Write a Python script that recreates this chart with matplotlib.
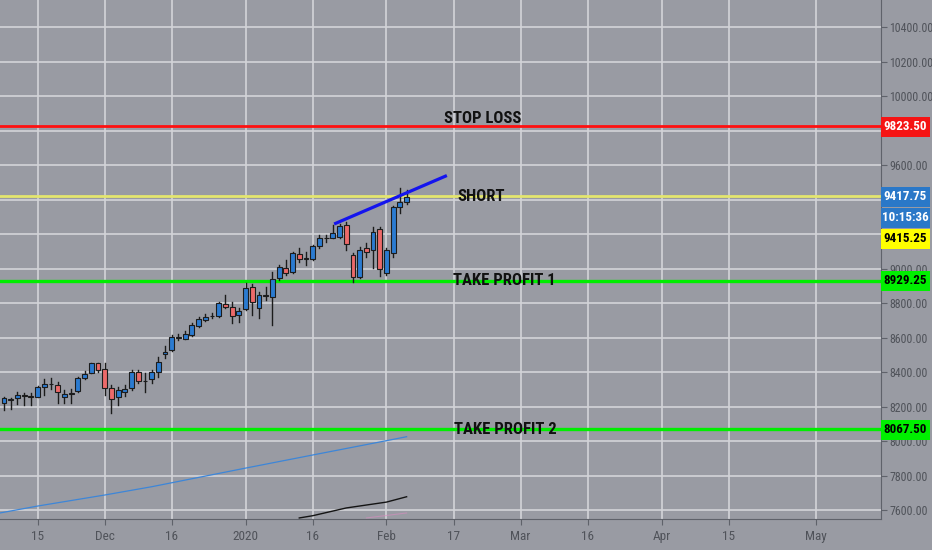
import matplotlib
matplotlib.use('Agg')
import matplotlib.pyplot as plt
import matplotlib.transforms as mtransforms
from matplotlib.patches import Rectangle

# daily NQ candles, oldest first (mid Nov 2019 .. Feb 6 2020)
opens = [8220, 8240, 8248, 8262, 8258, 8257, 8315, 8328, 8325, 8257,
         8275, 8292, 8365, 8395, 8450, 8417, 8307, 8254, 8284, 8307,
         8400, 8346, 8359, 8400, 8504, 8527, 8600, 8591, 8615, 8667,
         8701, 8722, 8725, 8794, 8777, 8730, 8765, 8893, 8771, 8843,
         8835, 8945, 9004, 8980, 9084, 9055, 9055, 9130, 9174, 9177,
         9183, 9252, 9078, 8951, 9119, 9107, 9229, 8974, 9090, 9357,
         9386]
highs = [8255, 8252, 8286, 8277, 8280, 8319, 8358, 8363, 8340, 8296,
         8300, 8373, 8408, 8455, 8455, 8452, 8325, 8315, 8325, 8412,
         8412, 8394, 8412, 8487, 8551, 8615, 8620, 8640, 8684, 8719,
         8736, 8742, 8806, 8846, 8806, 8771, 8916, 8910, 8864, 8893,
         8980, 9020, 9050, 9096, 9119, 9096, 9136, 9194, 9194, 9252,
         9258, 9270, 9090, 9125, 9148, 9241, 9241, 9119, 9362, 9467,
         9455]
lows = [8180, 8184, 8215, 8209, 8209, 8253, 8267, 8302, 8218, 8218,
        8222, 8286, 8360, 8392, 8400, 8267, 8162, 8209, 8261, 8296,
        8336, 8284, 8336, 8371, 8481, 8522, 8585, 8590, 8608, 8661,
        8697, 8713, 8719, 8771, 8684, 8690, 8759, 8730, 8713, 8817,
        8673, 8933, 8962, 8974, 9038, 9020, 9049, 9119, 9154, 9177,
        9177, 9107, 8922, 8945, 9067, 9003, 8956, 8962, 9067, 9322,
        9374]
closes = [8249, 8243, 8267, 8265, 8256, 8315, 8330, 8332, 8286, 8271,
          8278, 8364, 8388, 8451, 8410, 8307, 8243, 8296, 8301, 8400,
          8348, 8350, 8400, 8458, 8516, 8603, 8603, 8620, 8673, 8707,
          8719, 8725, 8800, 8777, 8725, 8754, 8887, 8806, 8846, 8847,
          8939, 9009, 8974, 9090, 9055, 9060, 9130, 9177, 9177, 9206,
          9246, 9142, 8951, 9107, 9096, 9212, 8997, 9107, 9357, 9386,
          9415]

# x axis (bar index -> label)
tick_pos = [5, 15, 25, 36, 46, 57, 67, 77, 87, 98, 108, 121]
tick_labels = ['15', 'Dec', '16', '2020', '16', 'Feb', '17', 'Mar', '16', 'Apr', '15', 'May']
price_ticks = [7600, 7800, 8000, 8200, 8400, 8600, 8800, 9000, 9200,
               9400, 9600, 9800, 10000, 10200, 10400]
# scale labels covered by the price boxes
covered_ticks = [9200, 9400, 9800]

# moving averages
ma_blue_idx = [-0.6, 5, 15, 22, 36, 46, 57, 60]
ma_blue_val = [7583, 7623, 7687, 7735, 7843, 7919, 8002, 8025]
ma_black_idx = [44, 46, 51, 57, 60]
ma_black_val = [7554, 7567, 7612, 7646, 7677]
ma_pink_idx = [54, 60]
ma_pink_val = [7554, 7583]

# drawn levels
stop_loss = 9823.50
short_level = 9417.75
take_profit_1 = 8929.25
take_profit_2 = 8067.50
bid_price = 9415.25
countdown = '10:15:36'

# trend line drawn on the highs
trend_idx = [49.2, 66.0]
trend_val = [9258, 9539]

BG = '#999ba3'
GRID = '#d3d4d8'
AXIS = '#5f626a'
TXT = '#50535a'
UP = '#2b7bd0'
DOWN = '#ec6a6a'
EDGE = '#1c1c1c'

narrow = ['Noto Sans Condensed', 'Roboto Condensed', 'Open Sans Condensed',
          'Liberation Sans', 'DejaVu Sans']

fig = plt.figure(figsize=(9.32, 5.5), dpi=100, facecolor=BG)
ax = fig.add_axes([0, 31 / 550, 881 / 932, 519 / 550], facecolor=BG)

ax.set_xlim(-0.6, 130.7)
ax.set_ylim(7548, 10556.5)

# grid
for p in price_ticks:
    ax.axhline(p, color=GRID, lw=1.2, zorder=0)
for t in tick_pos:
    ax.axvline(t, color=GRID, lw=1.2, zorder=0)

# moving averages
ax.plot(ma_blue_idx, ma_blue_val, color='#3d86d8', lw=0.9, zorder=2)
ax.plot(ma_black_idx, ma_black_val, color='#141414', lw=1.0, zorder=2)
ax.plot(ma_pink_idx, ma_pink_val, color='#d98cc0', lw=0.8, alpha=0.6, zorder=2)

# candles
w = 0.72
for i in range(len(opens)):
    o, h, l, c = opens[i], highs[i], lows[i], closes[i]
    ax.plot([i, i], [l, h], color=EDGE, lw=1.0, zorder=3)
    lo = min(o, c)
    hgt = max(abs(c - o), 4)
    col = UP if c >= o else DOWN
    ax.add_patch(Rectangle((i - w / 2, lo), w, hgt, facecolor=col,
                           edgecolor=EDGE, lw=0.8, zorder=4))

# horizontal levels
ax.axhline(stop_loss, color='#ff1010', lw=2.0, zorder=2)
ax.axhline(short_level, color='#e4e66e', lw=2.0, zorder=2)
ax.axhline(take_profit_1, color='#00ee00', lw=2.4, zorder=2)
ax.axhline(take_profit_2, color='#00ee00', lw=2.4, zorder=2)

# trend line
ax.plot(trend_idx, trend_val, color='#1414ee', lw=2.3, solid_capstyle='butt', zorder=5)

# level captions
cap = dict(family=narrow, fontsize=12, fontweight='bold', color='#111111', zorder=6)
ax.text(71.4, stop_loss + 5, 'STOP LOSS', ha='center', va='bottom', **cap)
ax.text(71.1, short_level, 'SHORT', ha='center', va='center', **cap)
ax.text(74.5, take_profit_1, 'TAKE PROFIT 1', ha='center', va='center', **cap)
ax.text(74.7, take_profit_2, 'TAKE PROFIT 2', ha='center', va='center', **cap)

# axes styling
for side in ['top', 'left']:
    ax.spines[side].set_visible(False)
ax.spines['right'].set_color(AXIS)
ax.spines['bottom'].set_color(AXIS)
ax.yaxis.tick_right()
ax.set_yticks(price_ticks)
ax.set_yticklabels(['' if p in covered_ticks else '%.2f' % p for p in price_ticks])
ax.set_xticks(tick_pos)
ax.set_xticklabels(tick_labels)
ax.tick_params(axis='both', colors=AXIS, labelcolor=TXT, length=4, width=0.8)
ax.tick_params(axis='x', pad=4, labelsize=9.5)
ax.tick_params(axis='y', pad=2, labelsize=8.6)
for lab in ax.get_xticklabels() + ax.get_yticklabels():
    lab.set_family(narrow)

# price boxes on the right scale
trans = mtransforms.blended_transform_factory(ax.transAxes, ax.transData)
box_w = 49 / 881
box_h = 21 * (10556.5 - 7548) / 519
boxes = [
    (stop_loss, '%.2f' % stop_loss, '#f51414', 'white'),
    (short_level, '%.2f' % short_level, '#2a78c8', 'white'),
    (short_level - box_h, countdown, '#2a78c8', 'white'),
    (short_level - 2 * box_h, '%.2f' % bid_price, '#ffff00', 'black'),
    (take_profit_1, '%.2f' % take_profit_1, '#00f000', 'black'),
    (take_profit_2, '%.2f' % take_profit_2, '#00f000', 'black'),
]
for yc, label, fc, tc in boxes:
    ax.add_patch(Rectangle((1.0, yc - box_h / 2), box_w, box_h * 0.96,
                           transform=trans, facecolor=fc, edgecolor='none',
                           clip_on=False, zorder=7))
    ax.text(1.0 + box_w / 2, yc, label, transform=trans, ha='center', va='center',
            family=narrow, fontsize=9.4, fontweight='bold', color=tc,
            clip_on=False, zorder=8)

fig.savefig('out.png', dpi=100, facecolor=BG)
